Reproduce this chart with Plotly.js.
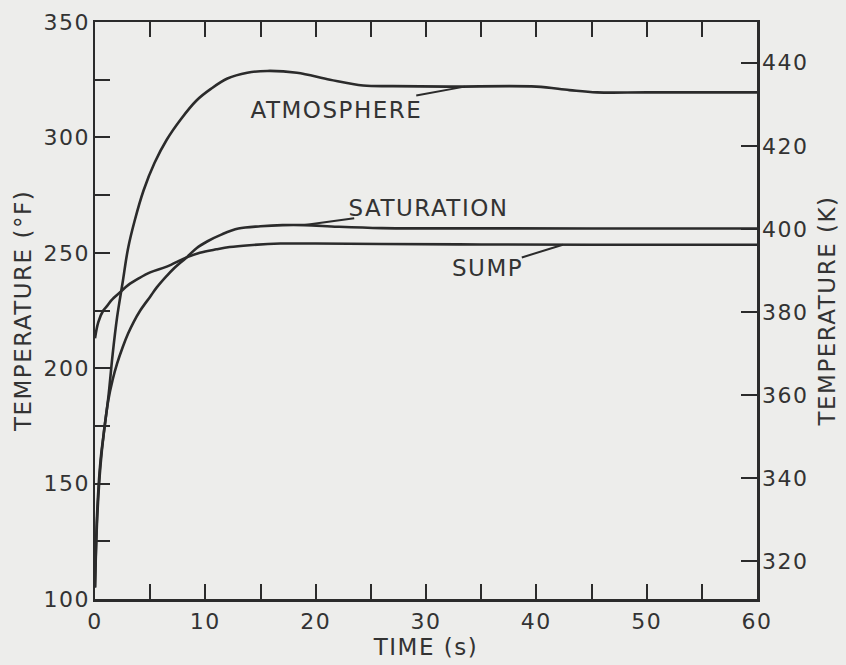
<!DOCTYPE html>
<html>
<head>
<meta charset="utf-8">
<script src="https://cdn.plot.ly/plotly-3.0.1.min.js"></script>
<style>
  html, body { margin: 0; padding: 0; background: #ededeb; }
  #chart { width: 846px; height: 665px; }
  .main-svg text { letter-spacing: 1.5px; }
</style>
</head>
<body>
<div id="chart"></div>
<script>
// Time (s) and temperature (°F)
const timeAtm = [0, 0.2, 0.5, 0.8, 1.2, 1.6, 2.0, 2.5, 3.0, 3.6, 4.4, 5.4, 6.5, 7.8, 9.2, 10.5, 12, 13.8, 15.6, 18.3, 21.3, 24.3, 27, 32, 40, 43, 45.5, 50, 60];
const atmosphere = [105, 138, 160, 172, 187, 206, 222, 237, 252, 264, 277, 289, 299, 308, 316, 321, 325.5, 328, 328.8, 328, 325, 322.5, 322.2, 322, 322, 320.5, 319.5, 319.5, 319.5];

const timeSat = [0, 0.2, 0.5, 0.8, 1.2, 1.6, 2.0, 2.5, 3.0, 3.5, 4.1, 5.0, 5.6, 6.5, 7.1, 8.3, 9.2, 10.2, 11.5, 13, 15, 17, 19, 22, 26, 35, 45, 60];
const saturation = [105, 135, 158, 172, 186, 195, 202, 209, 215, 220, 225, 231, 235, 240, 243, 248, 252, 255, 258, 260.5, 261.5, 262, 262, 261.3, 260.7, 260.6, 260.5, 260.5];

const timeSump = [0, 0.3, 0.75, 1.1, 1.5, 2.3, 3, 4, 5, 6.5, 8.3, 9.5, 11, 12.2, 14, 16.8, 20, 26, 35, 45, 60];
const sump = [213, 220, 225, 227, 229.5, 233, 236, 239, 241.5, 244, 248, 250, 251.5, 252.5, 253.3, 254, 254, 253.8, 253.6, 253.5, 253.5];

const seriesNames = ['ATMOSPHERE', 'SATURATION', 'SUMP'];

// axis ranges
const fRange = [100, 350];
const toK = f => (f - 32) * 5 / 9 + 273.15;
const kTicks = [320, 340, 360, 380, 400, 420, 440];
const xTicks = [0, 10, 20, 30, 40, 50, 60];

const ink = '#2b2b2b';
const lineStyle = {color: ink, width: 2.6, shape: 'spline', smoothing: 1};

const traces = [
  {x: timeAtm, y: atmosphere, name: seriesNames[0], mode: 'lines', line: lineStyle, hoverinfo: 'skip'},
  {x: timeSat, y: saturation, name: seriesNames[1], mode: 'lines', line: lineStyle, hoverinfo: 'skip'},
  {x: timeSump, y: sump, name: seriesNames[2], mode: 'lines', line: lineStyle, hoverinfo: 'skip'},
  {x: [], y: [], yaxis: 'y2', mode: 'lines', showlegend: false, hoverinfo: 'skip'}
];

const font = {family: 'DejaVu Sans, sans-serif', size: 22, color: '#333'};
const titleFont = {family: 'DejaVu Sans, sans-serif', size: 23, color: '#333'};

const layout = {
  width: 846, height: 665,
  paper_bgcolor: '#ededeb', plot_bgcolor: '#ededeb',
  margin: {l: 95, r: 89, t: 22, b: 66},
  showlegend: false,
  font: font,
  xaxis: {
    range: [0, 60], tickvals: xTicks, ticktext: xTicks.map(String),
    ticks: 'inside', ticklen: 15, tickwidth: 2, tickcolor: ink,
    minor: {dtick: 5, ticks: 'inside', ticklen: 15, tickwidth: 2, tickcolor: ink},
    showline: true, linecolor: ink, linewidth: 2.5, mirror: 'ticks',
    showgrid: false, zeroline: false, ticklabelstandoff: 1,
    tickfont: font,
    title: {text: 'TIME (s)', font: titleFont, standoff: 2}
  },
  yaxis: {
    range: fRange, dtick: 50, tick0: 100,
    ticks: 'inside', ticklen: 15, tickwidth: 2, tickcolor: ink,
    minor: {dtick: 25, ticks: 'inside', ticklen: 15, tickwidth: 2, tickcolor: ink},
    showline: true, linecolor: ink, linewidth: 2.5, mirror: true,
    showgrid: false, zeroline: false, ticklabelstandoff: -2,
    tickfont: font,
    title: {text: 'TEMPERATURE (°F)', font: titleFont, standoff: 10}
  },
  yaxis2: {
    overlaying: 'y', side: 'right', anchor: 'x',
    range: fRange.map(toK), tickvals: kTicks, ticktext: kTicks.map(String),
    ticks: 'inside', ticklen: 16, tickwidth: 2, tickcolor: ink,
    showline: true, linecolor: ink, linewidth: 2.5,
    showgrid: false, zeroline: false, ticklabelstandoff: -2,
    tickfont: font,
    title: {text: 'TEMPERATURE (K)', font: titleFont, standoff: 16}
  },
  annotations: [
    {x: 33.5, y: 322, ax: 21.9, ay: 311.9, axref: 'x', ayref: 'y', text: seriesNames[0],
     showarrow: true, arrowhead: 0, arrowwidth: 2, arrowcolor: ink, standoff: 0, font: {family: font.family, size: 23, color: '#333'}},
    {x: 19.0, y: 262, ax: 30.2, ay: 269.4, axref: 'x', ayref: 'y', text: seriesNames[1],
     showarrow: true, arrowhead: 0, arrowwidth: 2, arrowcolor: ink, standoff: 0, font: {family: font.family, size: 23, color: '#333'}},
    {x: 42.4, y: 253.5, ax: 35.6, ay: 243.4, axref: 'x', ayref: 'y', text: seriesNames[2],
     showarrow: true, arrowhead: 0, arrowwidth: 2, arrowcolor: ink, standoff: 0, font: {family: font.family, size: 23, color: '#333'}}
  ]
};

Plotly.newPlot('chart', traces, layout, {staticPlot: true, displayModeBar: false});
</script>
</body>
</html>
